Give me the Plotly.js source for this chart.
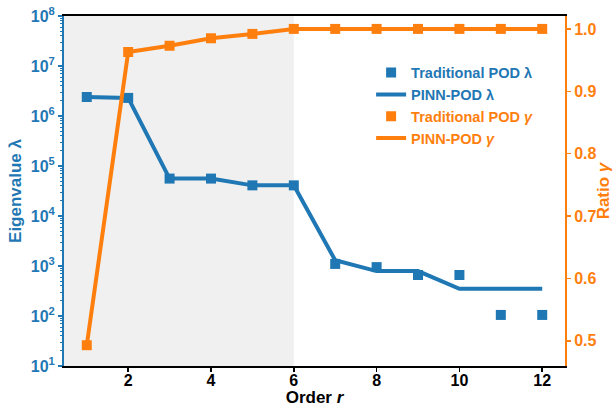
<!DOCTYPE html>
<html>
<head>
<meta charset="utf-8">
<script src="https://cdn.plot.ly/plotly-3.0.1.min.js"></script>
<style>
  html, body { margin: 0; padding: 0; background: #fff; }
  #chart { width: 613px; height: 407px; }
</style>
</head>
<body>
<div id="chart"></div>
<script>
// Mode order r
const order = [1, 2, 3, 4, 5, 6, 7, 8, 9, 10, 11, 12];

// Eigenvalues lambda
const tradLambda = [2.4e6, 2.3e6, 5.6e4, 5.6e4, 4.1e4, 4.1e4, 1.1e3, 9.5e2, 6.6e2, 6.6e2, 1.05e2, 1.05e2];
const pinnLambda = [2.4e6, 2.3e6, 5.6e4, 5.6e4, 4.1e4, 4.1e4, 1.3e3, 7.9e2, 7.9e2, 3.5e2, 3.5e2, 3.5e2];

// Cumulative energy ratio gamma
const tradGamma = [0.493, 0.963, 0.973, 0.985, 0.992, 1.0, 1.0, 1.0, 1.0, 1.0, 1.0, 1.0];
const pinnGamma = [0.493, 0.963, 0.973, 0.985, 0.992, 1.0, 1.0, 1.0, 1.0, 1.0, 1.0, 1.0];

// Left axis decades and labels
const lambdaExponents = [1, 2, 3, 4, 5, 6, 7, 8];
const lambdaTickVals = lambdaExponents.map(p => Math.pow(10, p));
const lambdaTickText = lambdaExponents.map(p => '10<sup>' + p + '</sup>');

// Right axis ticks
const gammaTicks = [0.5, 0.6, 0.7, 0.8, 0.9, 1.0];

// Shaded band ends at this order
const shadeEnd = 6;

const BLUE = '#1f77b4';
const ORANGE = '#ff7f0e';
const FONT = 'Liberation Sans, Arial, sans-serif';

const xRange = [0.45, 12.55];

const traces = [
  {
    x: order, y: tradLambda, yaxis: 'y', type: 'scatter', mode: 'markers',
    name: '<span style="color:' + BLUE + '">Traditional POD λ</span>',
    marker: { symbol: 'square', size: 10, color: BLUE }
  },
  {
    x: order, y: pinnLambda, yaxis: 'y', type: 'scatter', mode: 'lines',
    name: '<span style="color:' + BLUE + '">PINN-POD λ</span>',
    line: { color: BLUE, width: 4 }
  },
  {
    x: order, y: tradGamma, yaxis: 'y2', type: 'scatter', mode: 'markers',
    name: '<span style="color:' + ORANGE + '">Traditional POD <i>γ</i></span>',
    marker: { symbol: 'square', size: 10, color: ORANGE }
  },
  {
    x: order, y: pinnGamma, yaxis: 'y2', type: 'scatter', mode: 'lines',
    name: '<span style="color:' + ORANGE + '">PINN-POD <i>γ</i></span>',
    line: { color: ORANGE, width: 4 }
  }
];

const layout = {
  width: 613, height: 407,
  margin: { l: 64, r: 48, t: 16, b: 41 },
  paper_bgcolor: '#ffffff',
  plot_bgcolor: 'rgba(0,0,0,0)',
  font: { family: FONT, size: 15, color: '#000', weight: 'bold' },
  showlegend: true,
  legend: {
    x: 0.613, y: 0.884, xanchor: 'left', yanchor: 'top',
    bgcolor: 'rgba(255,255,255,1)', borderwidth: 0,
    font: { family: FONT, size: 14.5, weight: 'bold' },
    tracegroupgap: 0, itemwidth: 30
  },
  xaxis: {
    range: xRange, showgrid: false, zeroline: false,
    tickvals: [2, 4, 6, 8, 10, 12],
    ticks: 'outside', ticklen: 4, tickwidth: 1.5, tickcolor: '#000',
    ticklabelstandoff: -5,
    showline: true, linecolor: '#000', linewidth: 2, mirror: true,
    tickfont: { family: FONT, size: 16, color: '#000', weight: 'bold' },
    title: { text: 'Order <i>r</i>', standoff: 4, font: { family: FONT, size: 17, color: '#000', weight: 'bold' } }
  },
  yaxis: {
    type: 'log', range: [1, 8], showgrid: false, zeroline: false,
    tickmode: 'array', tickvals: lambdaTickVals, ticktext: lambdaTickText,
    ticks: 'outside', ticklen: 4, tickwidth: 1.5, tickcolor: BLUE,
    minor: { ticks: 'outside', ticklen: 2, tickwidth: 1, tickcolor: BLUE, dtick: 'D1', showgrid: false },
    showline: true, linecolor: BLUE, linewidth: 2,
    tickfont: { family: FONT, size: 16, color: BLUE, weight: 'bold' },
    title: { text: 'Eigenvalue λ', standoff: 5, font: { family: FONT, size: 17, color: BLUE, weight: 'bold' } }
  },
  yaxis2: {
    overlaying: 'y', side: 'right', range: [0.4597, 1.0207],
    showgrid: false, zeroline: false,
    tickmode: 'array', tickvals: gammaTicks, tickformat: '.1f',
    ticks: 'outside', ticklen: 4, tickwidth: 1.5, tickcolor: ORANGE,
    showline: true, linecolor: ORANGE, linewidth: 2,
    tickfont: { family: FONT, size: 16, color: ORANGE, weight: 'bold' },
    title: { text: 'Ratio <i>γ</i>', standoff: 4, font: { family: FONT, size: 17, color: ORANGE, weight: 'bold' } }
  },
  shapes: [
    {
      type: 'rect', xref: 'x', yref: 'paper', layer: 'below',
      x0: xRange[0], x1: shadeEnd, y0: 0, y1: 1,
      fillcolor: '#f0f0f0', line: { width: 0 }
    }
  ]
};

Plotly.newPlot('chart', traces, layout, { displayModeBar: false, staticPlot: true });
</script>
</body>
</html>
